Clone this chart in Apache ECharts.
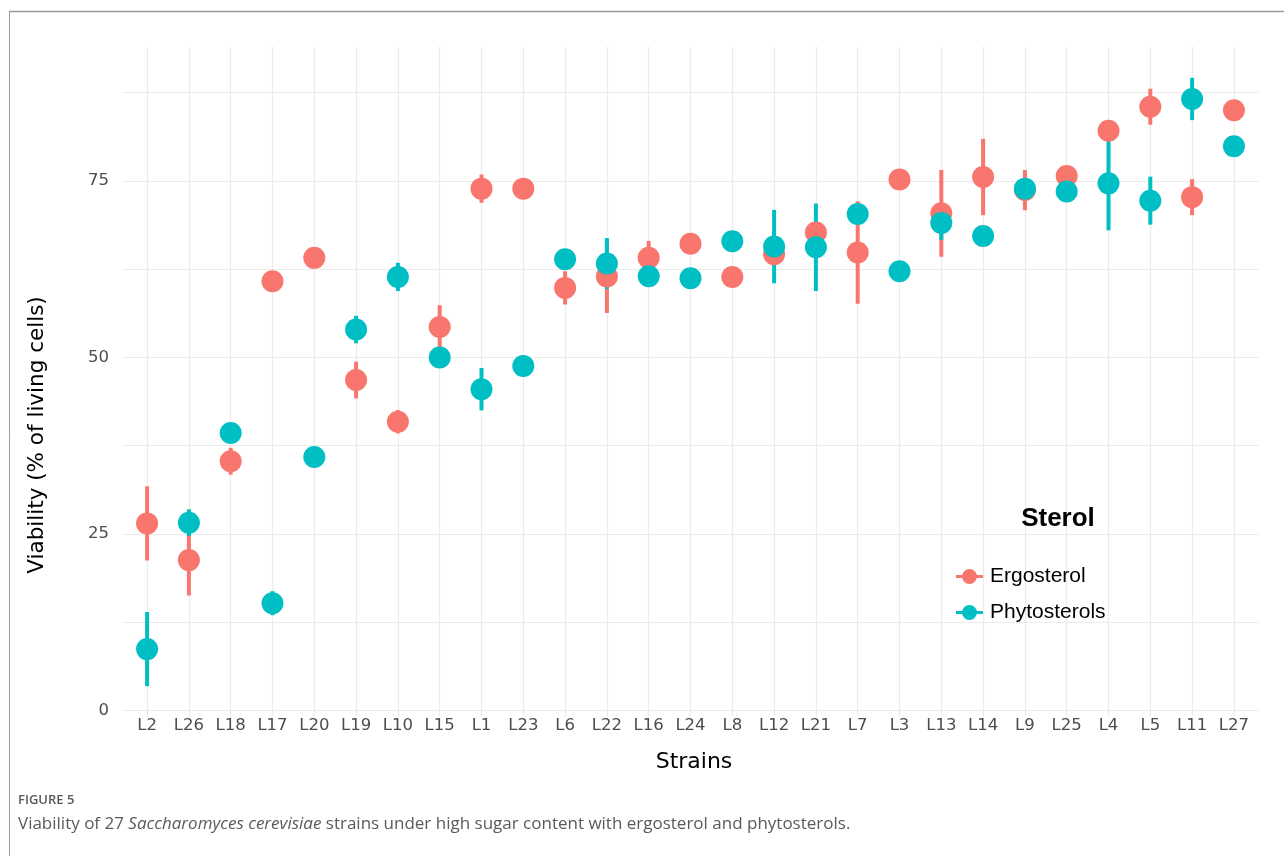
<!DOCTYPE html>
<html>
<head>
<meta charset="utf-8">
<script src="https://cdn.jsdelivr.net/npm/echarts@6/dist/echarts.min.js"></script>
<style>
  html, body { margin: 0; padding: 0; background: #ffffff; }
  #chart { width: 1284px; height: 856px; }
</style>
</head>
<body>
<div id="chart"></div>
<script>
// Strains in plotting order
const strains = ['L2','L26','L18','L17','L20','L19','L10','L15','L1','L23','L6','L22','L16','L24',
                 'L8','L12','L21','L7','L3','L13','L14','L9','L25','L4','L5','L11','L27'];

// Viability (% of living cells): mean and standard deviation per strain
const ergoMean  = [26.5, 21.3, 35.3, 60.8, 64.1, 46.8, 40.9, 54.3, 73.9, 73.9, 59.85, 61.45, 64.1, 66.1,
                   61.4, 64.6, 67.7, 64.85, 75.2, 70.4, 75.55, 73.7, 75.7, 82.1, 85.5, 72.7, 85.0];
const ergoSd    = [5.25, 5.0, 1.9, 0.8, 0.8, 2.6, 1.65, 3.1, 2.0, 0.6, 2.35, 5.15, 2.4, 0.8,
                   0.6, 1.0, 1.2, 7.25, 0.8, 6.15, 5.4, 2.85, 0.8, 0.8, 2.55, 2.55, 0.6];
const phytoMean = [8.7, 26.6, 39.3, 15.2, 35.9, 53.95, 61.4, 50.0, 45.5, 48.8, 63.9, 63.3, 61.5, 61.2,
                   66.45, 65.7, 65.6, 70.3, 62.2, 69.05, 67.2, 73.9, 73.5, 74.65, 72.2, 86.6, 79.9];
const phytoSd   = [5.25, 1.9, 0.8, 1.7, 0.6, 1.95, 2.0, 0.8, 3.0, 0.6, 0.8, 3.6, 0.8, 0.6,
                   0.6, 5.2, 6.2, 1.2, 0.6, 2.4, 0.8, 1.0, 0.8, 6.65, 3.4, 3.0, 0.6];

const yTickLabels = [0, 25, 50, 75];
const yGridValues = [0, 12.5, 25, 37.5, 50, 62.5, 75, 87.5];

const sterols = ['Ergosterol', 'Phytosterols'];
const colors = ['#F8766D', '#00BFC4'];

const idx = strains.map((_, i) => i);
const points = (mean) => mean.map((m, i) => [i, m]);
const ranges = (mean, sd) => mean.map((m, i) => [i, m - sd[i], m + sd[i]]);

// vertical line from mean - sd to mean + sd
function errorBar(color) {
  return function (params, api) {
    const x = api.value(0);
    const lo = api.coord([x, api.value(1)]);
    const hi = api.coord([x, api.value(2)]);
    return {
      type: 'line',
      shape: { x1: lo[0], y1: lo[1], x2: hi[0], y2: hi[1] },
      style: { stroke: color, lineWidth: 4 }
    };
  };
}

const gridColor = '#ebebeb';
const axisFont = 'DejaVu Sans';

const chart = echarts.init(document.getElementById('chart'), null, { renderer: 'canvas' });

chart.setOption({
  backgroundColor: '#ffffff',
  animation: false,
  grid: { left: 122, right: 25, top: 46.7, bottom: 139.8, containLabel: false },
  xAxis: {
    type: 'value',
    min: -0.6,
    max: 26.6,
    axisLine: { show: false },
    axisTick: { show: false, customValues: idx },
    axisLabel: {
      customValues: idx,
      formatter: (v) => strains[Math.round(v)],
      color: '#4d4d4d',
      fontFamily: axisFont,
      fontSize: 16.5,
      margin: 1
    },
    splitLine: { show: true, lineStyle: { color: gridColor, width: 1.2 } }
  },
  yAxis: {
    type: 'value',
    min: -0.8,
    max: 94,
    axisLine: { show: false },
    axisTick: { show: false, customValues: yGridValues },
    axisLabel: {
      customValues: yTickLabels,
      color: '#4d4d4d',
      fontFamily: axisFont,
      fontSize: 16.5,
      margin: 13
    },
    splitLine: { show: true, lineStyle: { color: gridColor, width: 1.2 } }
  },
  legend: {
    orient: 'vertical',
    left: 951,
    top: 561,
    itemWidth: 27,
    itemHeight: 20,
    itemGap: 15,
    selectedMode: false,
    icon: 'path://M0,8.5H7V11.5H0Z M20,8.5H27V11.5H20Z M13.5,2.5A7.5,7.5 0 1,1 13.49,2.5Z',
    textStyle: { fontFamily: 'Liberation Sans', fontSize: 21, color: '#000000', padding: [0, 0, 0, 2] },
    data: sterols
  },
  graphic: [
    { type: 'line', z: 100, shape: { x1: 9.5, y1: 11, x2: 9.5, y2: 856 }, style: { stroke: '#9a9a9a', lineWidth: 1 } },
    { type: 'line', z: 100, shape: { x1: 9, y1: 11.5, x2: 1284, y2: 11.5 }, style: { stroke: '#9a9a9a', lineWidth: 1.5 } },
    {
      type: 'text', z: 100, x: 1058, y: 519,
      style: { text: 'Sterol', font: 'bold 26px "Liberation Sans"', fill: '#000000', align: 'center', verticalAlign: 'middle' }
    },
    {
      type: 'text', z: 100, x: 694, y: 762,
      style: { text: 'Strains', font: '22px "DejaVu Sans"', fill: '#000000', align: 'center', verticalAlign: 'middle' }
    },
    {
      type: 'text', z: 100, x: 37, y: 435, rotation: Math.PI / 2,
      style: { text: 'Viability (% of living cells)', font: '21.5px "DejaVu Sans"', fill: '#000000', align: 'center', verticalAlign: 'middle' }
    },
    {
      type: 'text', z: 100, x: 18, y: 800,
      style: { text: 'FIGURE 5', font: '600 13px "Open Sans"', fill: '#5a5a5a', verticalAlign: 'middle' }
    },
    {
      type: 'text', z: 100, x: 18, y: 824,
      style: {
        verticalAlign: 'middle',
        text: '{n|Viability of 27 }{i|Saccharomyces cerevisiae}{n| strains under high sugar content with ergosterol and phytosterols.}',
        rich: {
          n: { font: '17px "Open Sans"', fill: '#5a5a5a' },
          i: { font: 'italic 17px "Open Sans"', fill: '#5a5a5a' }
        }
      }
    }
  ],
  series: [
    {
      type: 'custom', name: 'Ergosterol range', silent: true, z: 2,
      renderItem: errorBar(colors[0]),
      encode: { x: 0, y: [1, 2] },
      data: ranges(ergoMean, ergoSd)
    },
    {
      type: 'custom', name: 'Phytosterols range', silent: true, z: 2,
      renderItem: errorBar(colors[1]),
      encode: { x: 0, y: [1, 2] },
      data: ranges(phytoMean, phytoSd)
    },
    {
      type: 'scatter', name: sterols[0], z: 3, silent: true,
      symbol: 'circle', symbolSize: 22,
      itemStyle: { color: colors[0], opacity: 1 },
      data: points(ergoMean)
    },
    {
      type: 'scatter', name: sterols[1], z: 4, silent: true,
      symbol: 'circle', symbolSize: 22,
      itemStyle: { color: colors[1], opacity: 1 },
      data: points(phytoMean)
    }
  ]
});
</script>
</body>
</html>
